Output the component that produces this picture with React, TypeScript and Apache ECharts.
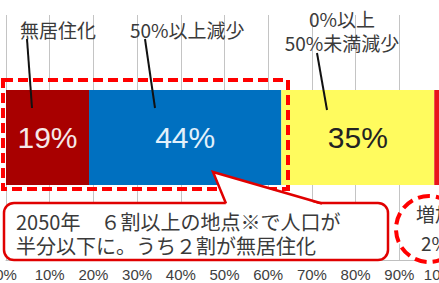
import React, { useEffect, useRef } from 'react';
import * as echarts from 'echarts';

const categories = ['2050年'];
const seriesNames = ['無居住化', '50%以上減少', '0%以上50%未満減少', '増加'];
const seriesValues = [19, 44, 35, 2];
const seriesColors = ['#A80000', '#0070C0', '#FFFB5E', '#E8141B'];
const labelColors = ['#F6E8E8', '#E2F0FB', '#222222', '#ffffff'];
const showLabels = [true, true, true, false];
const axisMin = 0;
const axisMax = 100;
const axisInterval = 10;

const CJK = '"Noto Sans CJK JP", "Noto Sans", sans-serif';
const SANS = '"Liberation Sans", Arial, sans-serif';
const RED = '#FF0000';

export default function App() {
  const ref = useRef<HTMLDivElement>(null);
  useEffect(() => {
    if (!ref.current) return;
    const chart = echarts.init(ref.current, undefined, { renderer: 'svg' });
    const series = seriesValues.map((v, i) => ({
      name: seriesNames[i],
      type: 'bar',
      stack: 'total',
      barWidth: 95,
      data: [v],
      itemStyle: { color: seriesColors[i] },
      label: {
        show: showLabels[i],
        position: 'inside',
        formatter: '{c}%',
        color: labelColors[i],
        fontSize: 30,
        fontFamily: SANS,
      },
    }));
    const txt = (x: number, y: number, text: string, size: number, align = 'left', lineHeight?: number) => ({
      type: 'text',
      z: 110,
      x,
      y,
      style: {
        text,
        fontSize: size,
        fontFamily: CJK,
        fill: '#3a3a3a',
        align,
        verticalAlign: 'middle',
        lineHeight: lineHeight ?? size + 2,
      },
    });
    const line = (x1: number, y1: number, x2: number, y2: number) => ({
      type: 'line',
      z: 105,
      shape: { x1, y1, x2, y2 },
      style: { stroke: '#111', lineWidth: 2 },
    });
    chart.setOption({
      animation: false,
      grid: { left: 6, top: 15, width: 437, height: 245, containLabel: false, outerBoundsMode: 'none' },
      xAxis: {
        type: 'value',
        min: axisMin,
        max: axisMax,
        interval: axisInterval,
        axisLabel: {
          formatter: '{value}%',
          fontSize: 15,
          fontFamily: SANS,
          color: '#404040',
          margin: 7,
          hideOverlap: false,
        },
        axisLine: { show: true, lineStyle: { color: '#BFBFBF' } },
        axisTick: { show: false },
        splitLine: { show: true, lineStyle: { color: '#C4C4C4', width: 1 } },
      },
      yAxis: {
        type: 'category',
        data: categories,
        show: false,
      },
      series,
      graphic: [
        {
          type: 'rect',
          z: 100,
          shape: { x: 3, y: 80, width: 285, height: 109 },
          style: { fill: 'none', stroke: RED, lineWidth: 4, lineDash: [10, 5] },
        },
        line(27, 39, 32, 108),
        line(145, 39, 155, 108),
        line(317, 53, 327, 110),
        txt(20, 29, '無居住化', 19),
        txt(130, 29, '50%以上減少', 19),
        txt(342, 30, '0%以上\n50%未満減少', 19, 'center', 24),
        {
          type: 'rect',
          z: 101,
          shape: { x: 4, y: 203, width: 384, height: 57, r: 10 },
          style: { fill: '#ffffff', stroke: '#E00000', lineWidth: 2.5 },
        },
        {
          type: 'polygon',
          z: 102,
          shape: { points: [[213, 172], [226, 205], [322, 205]] },
          style: { fill: '#ffffff', stroke: 'none' },
        },
        {
          type: 'polyline',
          z: 103,
          shape: { points: [[226, 203.5], [213, 172], [322, 203.5]] },
          style: { fill: 'none', stroke: '#E00000', lineWidth: 2.5, lineJoin: 'miter' },
        },
        txt(16, 233, '2050年　６割以上の地点※で人口が\n半分以下に。うち２割が無居住化', 20, 'left', 24),
        {
          type: 'circle',
          z: 101,
          shape: { cx: 429, cy: 229, r: 33 },
          style: { fill: '#ffffff', stroke: RED, lineWidth: 4, lineDash: [12, 6] },
        },
        txt(435, 228, '増加\n2%', 19, 'center', 29),
      ],
    });
    return () => chart.dispose();
  }, []);
  return (
    <div
      ref={ref}
      style={{ position: 'fixed', left: 0, top: 0, width: 439, height: 283, background: '#fff' }}
    />
  );
}
